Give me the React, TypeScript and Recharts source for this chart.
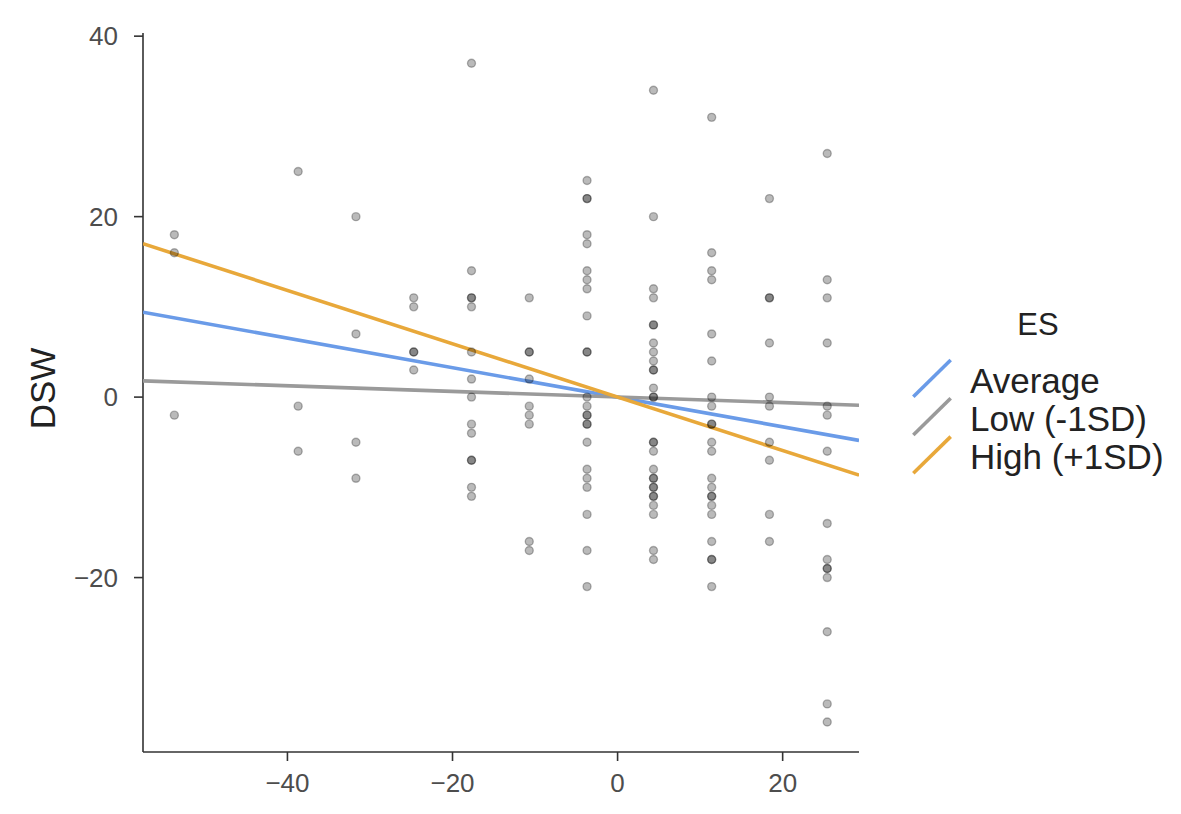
import React from "react";
import { ScatterChart, Scatter, XAxis, YAxis } from "recharts";

// x positions of the predictor levels (centred)
const xLevels = [-53.7, -38.7, -31.7, -24.7, -17.7, -10.7, -3.7, 4.35, 11.4, 18.4, 25.4];

// DSW values observed at each level
const dswL1 = [18, 16, -2];
const dswL2 = [25, -1, -6];
const dswL3 = [20, 7, -5, -9];
const dswL4 = [11, 10, 5, 5, 3];
const dswL5 = [37, 14, 11, 11, 10, 5, 2, 0, -3, -4, -7, -7, -10, -11];
const dswL6 = [11, 5, 5, 2, -1, -2, -3, -16, -17];
const dswL7 = [24, 22, 22, 18, 17, 14, 13, 12, 9, 5, 5, 0, -1, -2, -2, -3, -3, -5, -8, -9, -10, -13, -17, -21];
const dswL8 = [34, 20, 12, 11, 8, 8, 6, 5, 4, 3, 3, 1, 0, 0, -5, -5, -6, -8, -9, -9, -10, -10, -11, -11, -12, -13, -17, -18];
const dswL9 = [31, 16, 14, 13, 7, 4, 0, -1, -3, -3, -5, -6, -9, -10, -11, -11, -12, -13, -16, -18, -18, -21];
const dswL10 = [22, 11, 11, 6, 0, -1, -5, -7, -13, -16];
const dswL11 = [27, 13, 11, 6, -1, -2, -6, -14, -18, -19, -19, -20, -26, -34, -36];

// simple-slope lines (endpoints)
const lineX = [-57.5, 29.25];
const averageY = [9.4, -4.8];
const lowY = [1.8, -0.9];
const highY = [17.0, -8.65];

// axes
const xTicks = [-40, -20, 0, 20];
const yTicks = [-20, 0, 20, 40];
const xDomain = [-57.5, 29.25];
const yDomain = [-39.33, 40.35];

const legendTitle = "ES";
const legendLabels = ["Average", "Low (-1SD)", "High (+1SD)"];
const seriesColors = ["#6a9be8", "#9a9a9a", "#e8a83a"];

const allLevels = [dswL1, dswL2, dswL3, dswL4, dswL5, dswL6, dswL7, dswL8, dswL9, dswL10, dswL11];
const points = allLevels.flatMap((ys, i) => ys.map((y) => ({ x: xLevels[i], y })));

const toLine = (ys: number[]) => lineX.map((x, i) => ({ x, y: ys[i] }));
const lines = [toLine(averageY), toLine(lowY), toLine(highY)];

const fmt = (v: number) => (v < 0 ? "\u2212" + Math.abs(v) : String(v));

const FONT = "'Liberation Sans', Arial, sans-serif";

const Dot = (props: any) => {
  const { cx, cy } = props;
  if (cx == null || cy == null) return <g />;
  return (
    <circle
      cx={cx}
      cy={cy}
      r={4.0}
      fill="#000"
      fillOpacity={0.27}
      stroke="#000"
      strokeOpacity={0.27}
      strokeWidth={1.4}
    />
  );
};

const Empty = () => <g />;

const YTitle = (props: any) => {
  const vb = props.viewBox || { x: 0, y: 0, width: 0, height: 0 };
  const x = vb.x + 45;
  const y = vb.y + vb.height / 2 - 4;
  return (
    <text
      x={x}
      y={y}
      transform={`rotate(-90, ${x}, ${y})`}
      textAnchor="middle"
      fontSize={35}
      fontFamily={FONT}
      fill="#222"
    >
      DSW
    </text>
  );
};

export default function App() {
  return (
    <div style={{ position: "absolute", left: 0, top: 0, width: 1181, height: 814, background: "#fff" }}>
      <ScatterChart
        width={1181}
        height={814}
        margin={{ top: 33, right: 322, bottom: 22, left: 10 }}
      >
        <XAxis
          type="number"
          dataKey="x"
          domain={xDomain}
          ticks={xTicks}
          allowDataOverflow
          height={40}
          tickFormatter={fmt}
          tickSize={9}
          tickMargin={13}
          axisLine={{ stroke: "#333", strokeWidth: 1.6 }}
          tickLine={{ stroke: "#333", strokeWidth: 1.6 }}
          tick={{ fill: "#4d4d4d", fontSize: 26, fontFamily: FONT }}
        />
        <YAxis
          type="number"
          dataKey="y"
          domain={yDomain}
          ticks={yTicks}
          allowDataOverflow
          width={133}
          tickFormatter={fmt}
          tickSize={9}
          tickMargin={16}
          axisLine={{ stroke: "#333", strokeWidth: 1.6 }}
          tickLine={{ stroke: "#333", strokeWidth: 1.6 }}
          tick={{ fill: "#4d4d4d", fontSize: 26, fontFamily: FONT }}
          label={{ content: YTitle }}
        />
        {lines.map((d, i) => (
          <Scatter
            key={legendLabels[i]}
            name={legendLabels[i]}
            data={d}
            line={{ stroke: seriesColors[i], strokeWidth: 3.6 }}
            shape={Empty}
            isAnimationActive={false}
          />
        ))}
        <Scatter name="points" data={points} shape={Dot} isAnimationActive={false} />
      </ScatterChart>
      <svg
        width={281}
        height={210}
        style={{ position: "absolute", left: 900, top: 290 }}
      >
        <text x={138} y={45} textAnchor="middle" fontSize={31} fontFamily={FONT} fill="#222">
          {legendTitle}
        </text>
        {legendLabels.map((lab, i) => {
          const base = 106.7 + i * 38.3;
          return (
            <g key={lab}>
              <line
                x1={13.3}
                y1={base}
                x2={50.7}
                y2={base - 36.7}
                stroke={seriesColors[i]}
                strokeWidth={3.6}
              />
              <text x={70} y={base - 4} fontSize={35} fontFamily={FONT} fill="#222">
                {lab}
              </text>
            </g>
          );
        })}
      </svg>
    </div>
  );
}
